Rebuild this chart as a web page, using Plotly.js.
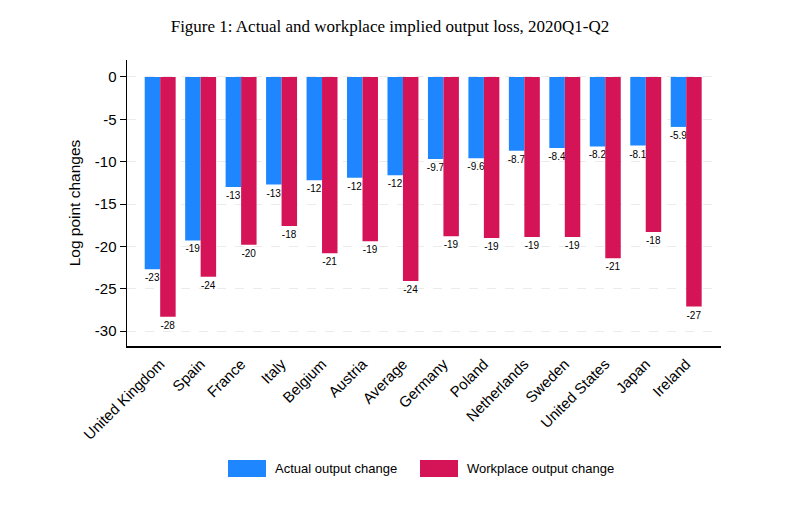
<!DOCTYPE html>
<html>
<head>
<meta charset="utf-8">
<script src="https://cdn.plot.ly/plotly-3.0.1.min.js"></script>
<style>
  html, body { margin: 0; padding: 0; background: #fff; }
  #chart { width: 800px; height: 508px; }
</style>
</head>
<body>
<div id="chart"></div>
<script>
// Output loss per country, 2020Q1-Q2 (log points)
const countries = ['United Kingdom', 'Spain', 'France', 'Italy', 'Belgium', 'Austria', 'Average',
  'Germany', 'Poland', 'Netherlands', 'Sweden', 'United States', 'Japan', 'Ireland'];
const actualChange = [-22.7, -19.3, -13.0, -12.7, -12.2, -11.9, -11.6,
  -9.7, -9.6, -8.7, -8.4, -8.2, -8.1, -5.9];
const workplaceChange = [-28.3, -23.6, -19.8, -17.6, -20.8, -19.4, -24.1,
  -18.8, -19.0, -18.9, -18.9, -21.4, -18.3, -27.1];
const yTicks = [0, -5, -10, -15, -20, -25, -30];

const BLUE = '#1e87ff';
const RED = '#d41457';
const SANS = 'Liberation Sans, Arial, sans-serif';

// Stata-style %9.2g labels: two significant digits
function fmt(v) {
  return Number(v).toPrecision(2).replace(/\.0$/, '');
}

function barTrace(name, values, colour) {
  return {
    type: 'bar',
    name: name,
    x: countries,
    y: values,
    marker: { color: colour, line: { width: 0 } },
    text: values.map(fmt),
    textposition: 'outside',
    textangle: 0,
    constraintext: 'none',
    cliponaxis: false,
    textfont: { family: SANS, size: 10, color: '#000' },
    hoverinfo: 'x+y',
    showlegend: false
  };
}

const data = [
  barTrace('Actual output change', actualChange, BLUE),
  barTrace('Workplace output change', workplaceChange, RED)
];

// plot area in pixels, used to place the legend boxes in paper coords
const plotL = 127, plotR = 721, plotT = 60, plotB = 346;
const px = (x) => (x - plotL) / (plotR - plotL);
const py = (y) => (plotB - y) / (plotB - plotT);

const legendItems = [
  { label: 'Actual output change', colour: BLUE, x0: 228, x1: 266 },
  { label: 'Workplace output change', colour: RED, x0: 420, x1: 458 }
];

const layout = {
  width: 800,
  height: 508,
  paper_bgcolor: '#fff',
  plot_bgcolor: '#fff',
  margin: { l: plotL, r: 800 - plotR, t: plotT, b: 508 - plotB, pad: 0 },
  barmode: 'group',
  bargap: 0.235,
  bargroupgap: 0,
  title: {
    text: 'Figure 1: Actual and workplace implied output loss, 2020Q1-Q2',
    font: { family: 'Liberation Serif, Times New Roman, serif', size: 17, color: '#000' },
    x: 0.4875,
    xanchor: 'center',
    y: 0.949,
    yanchor: 'middle'
  },
  xaxis: {
    type: 'category',
    range: [-0.82, 13.86],
    tickangle: -45,
    tickfont: { family: SANS, size: 15, color: '#000' },
    ticklabelstandoff: 2,
    showline: true,
    linecolor: '#000',
    linewidth: 1.5,
    ticks: '',
    showgrid: false,
    zeroline: false,
    fixedrange: true
  },
  yaxis: {
    range: [-31.76, 2.0],
    tickvals: yTicks,
    ticktext: yTicks.map(String),
    tickfont: { family: SANS, size: 15, color: '#000' },
    ticks: 'outside',
    ticklen: 6,
    tickcolor: '#000',
    showline: true,
    linecolor: '#000',
    linewidth: 1.5,
    showgrid: true,
    gridcolor: '#ebebeb',
    griddash: 'dash',
    gridwidth: 1,
    zeroline: false,
    title: {
      text: 'Log point changes',
      font: { family: SANS, size: 15.5, color: '#000' },
      standoff: 10
    },
    fixedrange: true
  },
  shapes: legendItems.map(function (it) {
    return {
      type: 'rect', xref: 'paper', yref: 'paper',
      x0: px(it.x0), x1: px(it.x1), y0: py(477), y1: py(460),
      fillcolor: it.colour, line: { width: 0 }
    };
  }),
  annotations: legendItems.map(function (it) {
    return {
      xref: 'paper', yref: 'paper',
      x: px(it.x1 + 7), y: py(468.5),
      xanchor: 'left', yanchor: 'middle',
      text: it.label,
      showarrow: false,
      font: { family: SANS, size: 13, color: '#000' }
    };
  })
};

Plotly.newPlot('chart', data, layout, { displayModeBar: false, staticPlot: true });
</script>
</body>
</html>
